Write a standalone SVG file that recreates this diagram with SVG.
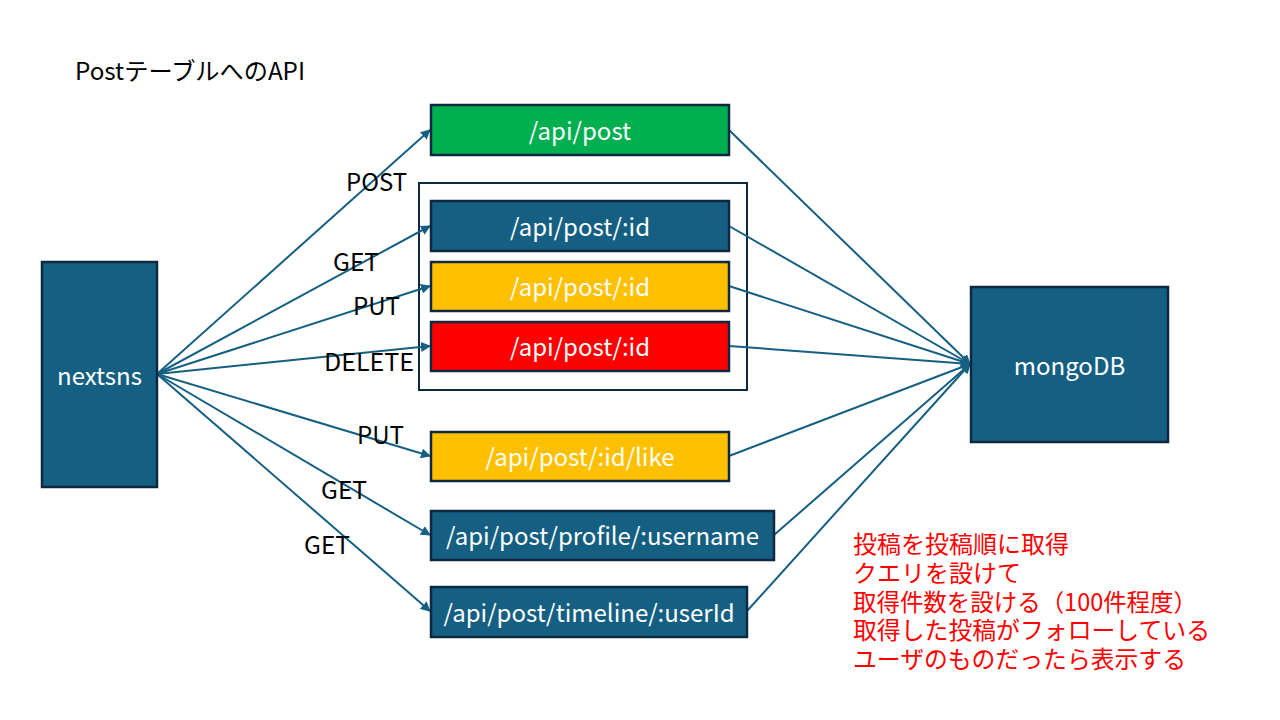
<svg xmlns="http://www.w3.org/2000/svg" width="1280" height="720" viewBox="0 0 1280 720">
<style>
.node{stroke:#0E2841;stroke-width:2.5}
.blue{fill:#156082}.green{fill:#00B050}.yellow{fill:#FFC000}.red{fill:#FF0000}
.nt{fill:#ffffff;font-family:"Noto Sans CJK JP","Noto Sans",sans-serif;font-size:24px;text-anchor:middle;dominant-baseline:central}
.lbl{fill:#000000;font-family:"Noto Sans CJK JP","Noto Sans",sans-serif;font-size:24px}
.note{fill:#FF0000;font-family:"Noto Sans CJK JP",sans-serif;font-size:24px}
.conn{stroke:#156082;stroke-width:2;fill:none;marker-end:url(#ah)}
</style>
<defs>
<marker id="ah" viewBox="0 0 10 10" refX="9" refY="5" markerWidth="5" markerHeight="5" orient="auto" markerUnits="strokeWidth">
<path d="M0,0 L10,5 L0,10 z" fill="#156082"/>
</marker>
</defs>
<rect width="1280" height="720" fill="#ffffff"/>
<text class="lbl" x="75" y="80" textLength="230" lengthAdjust="spacingAndGlyphs">PostテーブルへのAPI</text>
<g id="group-id">
<rect x="419" y="183" width="328" height="207" fill="none" stroke="#0E2841" stroke-width="2"/>
</g>
<g id="connectors">
<line class="conn" x1="157" y1="374" x2="430" y2="130"/>
<line class="conn" x1="157" y1="374" x2="430" y2="226"/>
<line class="conn" x1="157" y1="374" x2="430" y2="286"/>
<line class="conn" x1="157" y1="374" x2="430" y2="346"/>
<line class="conn" x1="157" y1="374" x2="430" y2="456"/>
<line class="conn" x1="157" y1="374" x2="430" y2="535"/>
<line class="conn" x1="157" y1="374" x2="430" y2="611"/>
<line class="conn" x1="729" y1="130" x2="970" y2="364"/>
<line class="conn" x1="729" y1="226" x2="970" y2="364"/>
<line class="conn" x1="729" y1="286" x2="970" y2="364"/>
<line class="conn" x1="729" y1="346" x2="970" y2="364"/>
<line class="conn" x1="729" y1="456" x2="970" y2="364"/>
<line class="conn" x1="774" y1="535" x2="970" y2="364"/>
<line class="conn" x1="747" y1="611" x2="970" y2="364"/>
</g>
<g id="labels">
<text class="lbl" x="346" y="191" textLength="61" lengthAdjust="spacingAndGlyphs">POST</text>
<text class="lbl" x="333" y="271" textLength="46" lengthAdjust="spacingAndGlyphs">GET</text>
<text class="lbl" x="353" y="315" textLength="47" lengthAdjust="spacingAndGlyphs">PUT</text>
<text class="lbl" x="324" y="371" textLength="90" lengthAdjust="spacingAndGlyphs">DELETE</text>
<text class="lbl" x="357" y="444" textLength="47" lengthAdjust="spacingAndGlyphs">PUT</text>
<text class="lbl" x="321" y="499" textLength="46" lengthAdjust="spacingAndGlyphs">GET</text>
<text class="lbl" x="304" y="554" textLength="46" lengthAdjust="spacingAndGlyphs">GET</text>
</g>
<g id="nextsns"><rect class="node blue" x="42" y="262" width="115" height="225"/><text class="nt" x="99.5" y="374">nextsns</text></g>
<g id="mongodb"><rect class="node blue" x="971" y="287" width="197" height="155"/><text class="nt" x="1069.5" y="364">mongoDB</text></g>
<g id="api-post"><rect class="node green" x="431" y="105" width="298" height="50"/><text class="nt" x="580" y="129">/api/post</text></g>
<g id="api-post-id-get"><rect class="node blue" x="431" y="201" width="298" height="50"/><text class="nt" x="580" y="225">/api/post/:id</text></g>
<g id="api-post-id-put"><rect class="node yellow" x="431" y="262" width="298" height="49"/><text class="nt" x="580" y="285">/api/post/:id</text></g>
<g id="api-post-id-delete"><rect class="node red" x="431" y="322" width="298" height="49"/><text class="nt" x="580" y="345">/api/post/:id</text></g>
<g id="api-post-id-like"><rect class="node yellow" x="431" y="432" width="298" height="49"/><text class="nt" x="580" y="455">/api/post/:id/like</text></g>
<g id="api-post-profile"><rect class="node blue" x="431" y="511" width="343" height="49"/><text class="nt" x="602.5" y="534">/api/post/profile/:username</text></g>
<g id="api-post-timeline"><rect class="node blue" x="431" y="587" width="316" height="50"/><text class="nt" x="589" y="611">/api/post/timeline/:userId</text></g>
<g id="note">
<text class="note" x="853" y="553">投稿を投稿順に取得</text>
<text class="note" x="853" y="582">クエリを設けて</text>
<text class="note" x="853" y="611" textLength="344" lengthAdjust="spacingAndGlyphs">取得件数を設ける（100件程度）</text>
<text class="note" x="853" y="639" textLength="357" lengthAdjust="spacingAndGlyphs">取得した投稿がフォローしている</text>
<text class="note" x="853" y="668" textLength="333" lengthAdjust="spacingAndGlyphs">ユーザのものだったら表示する</text>
</g>
</svg>
